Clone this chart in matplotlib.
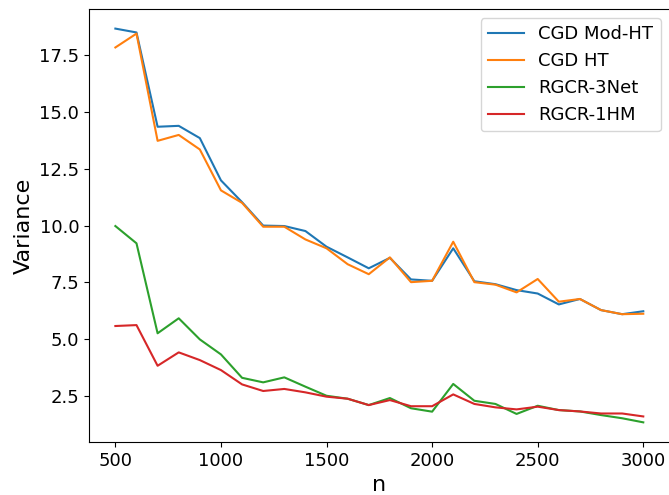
import matplotlib
matplotlib.use("Agg")
import matplotlib.pyplot as plt
import numpy as np

n = np.arange(500, 3001, 100)

cgd_mod_ht = [18.67, 18.50, 14.35, 14.39, 13.85, 11.99, 11.03, 10.00, 9.98, 9.76,
              9.07, 8.60, 8.12, 8.58, 7.63, 7.57, 9.00, 7.55, 7.42, 7.16,
              7.01, 6.53, 6.77, 6.28, 6.10, 6.23]
cgd_ht = [17.84, 18.45, 13.73, 13.99, 13.35, 11.55, 11.00, 9.95, 9.95, 9.39,
          9.00, 8.30, 7.86, 8.60, 7.51, 7.57, 9.29, 7.51, 7.40, 7.06,
          7.65, 6.65, 6.77, 6.28, 6.10, 6.12]
rgcr_3net = [9.98, 9.22, 5.26, 5.92, 4.99, 4.33, 3.30, 3.10, 3.32, 2.91,
             2.51, 2.38, 2.10, 2.41, 1.96, 1.81, 3.03, 2.29, 2.15, 1.71,
             2.07, 1.88, 1.82, 1.66, 1.52, 1.34]
rgcr_1hm = [5.58, 5.62, 3.83, 4.42, 4.08, 3.64, 3.01, 2.72, 2.81, 2.66,
            2.47, 2.38, 2.10, 2.32, 2.05, 2.05, 2.57, 2.15, 2.00, 1.91,
            2.03, 1.88, 1.82, 1.73, 1.73, 1.60]

fig = plt.figure(figsize=(6.69, 4.95), dpi=100)
ax = fig.add_axes([0.133, 0.107, 0.868, 0.875])

ax.plot(n, cgd_mod_ht, label="CGD Mod-HT")
ax.plot(n, cgd_ht, label="CGD HT")
ax.plot(n, rgcr_3net, label="RGCR-3Net")
ax.plot(n, rgcr_1hm, label="RGCR-1HM")

ax.set_xlabel("n", fontsize=16)
ax.set_ylabel("Variance", fontsize=16)
ax.tick_params(labelsize=13)
ax.legend(fontsize=13, loc="upper right")

fig.savefig("out.png", dpi=100)
